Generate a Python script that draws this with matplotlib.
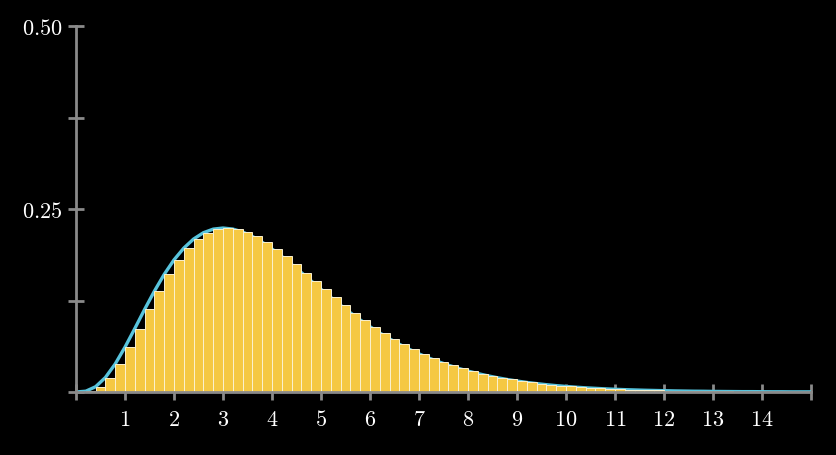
import matplotlib
matplotlib.use("Agg")
import matplotlib.pyplot as plt

# bar heights, one per 0.2-wide bin starting at x = 0
bin_left = [round(0.2 * i, 1) for i in range(76)]
density = [
    0.0, 0.0011, 0.0072, 0.0198, 0.0383, 0.0613, 0.0867, 0.1128, 0.1378, 0.1607,
    0.1805, 0.1966, 0.2090, 0.2176, 0.2225, 0.2240, 0.2226, 0.2186, 0.2125, 0.2046,
    0.1954, 0.1852, 0.1743, 0.1631, 0.1517, 0.1404, 0.1293, 0.1185, 0.1082, 0.0985,
    0.0892, 0.0806, 0.0726, 0.0652, 0.0584, 0.0521, 0.0464, 0.0413, 0.0366, 0.0324,
    0.0286, 0.0252, 0.0222, 0.0195, 0.0171, 0.0150, 0.0131, 0.0115, 0.0100, 0.0087,
    0.0076, 0.0066, 0.0057, 0.0050, 0.0043, 0.0037, 0.0032, 0.0028, 0.0024, 0.0021,
    0.0018, 0.0015, 0.0013, 0.0011, 0.0010, 0.0008, 0.0007, 0.0006, 0.0005, 0.0005,
    0.0004, 0.0003, 0.0003, 0.0002, 0.0002, 0.0002,
]
x_ticks = list(range(16))
x_labels = [""] + [str(i) for i in range(1, 15)] + [""]
y_ticks = [0, 0.125, 0.25, 0.375, 0.5]
y_labels = ["", "", "0.25", "", "0.50"]

AXIS = "#8a8a8a"
BAR = "#f5c842"
CURVE = "#58c4dd"

plt.rcParams["mathtext.fontset"] = "cm"
plt.rcParams["font.family"] = "DejaVu Serif"

fig = plt.figure(figsize=(8.36, 4.56), dpi=100, facecolor="black")
ax = fig.add_axes([76 / 836, 63 / 456, 735 / 836, 366 / 456])
ax.set_facecolor("black")

ax.plot(bin_left, density, color=CURVE, lw=2.4, zorder=2, solid_capstyle="round")
ax.bar(bin_left[:-1], density[:-1], width=0.2, align="edge", color=BAR,
       edgecolor="#fbf1cf", linewidth=0.7, zorder=3)

ax.set_xlim(0, 15)
ax.set_ylim(0, 0.5)
for side in ("top", "right"):
    ax.spines[side].set_visible(False)
for side in ("left", "bottom"):
    ax.spines[side].set_color(AXIS)
    ax.spines[side].set_linewidth(2)
    ax.spines[side].set_zorder(4)

ax.set_xticks(x_ticks)
ax.set_xticklabels(["" if s == "" else f"${s}$" for s in x_labels])
ax.set_yticks(y_ticks)
ax.set_yticklabels(["" if s == "" else f"${s}$" for s in y_labels])
ax.tick_params(axis="both", direction="inout", length=11, width=2, color=AXIS,
               labelcolor="white", labelsize=16)
ax.tick_params(axis="x", pad=6)
ax.tick_params(axis="y", pad=4)
for t in ax.xaxis.get_major_ticks() + ax.yaxis.get_major_ticks():
    t.tick1line.set_clip_on(False)

fig.savefig("out.png", dpi=100, facecolor="black")
plt.close(fig)
